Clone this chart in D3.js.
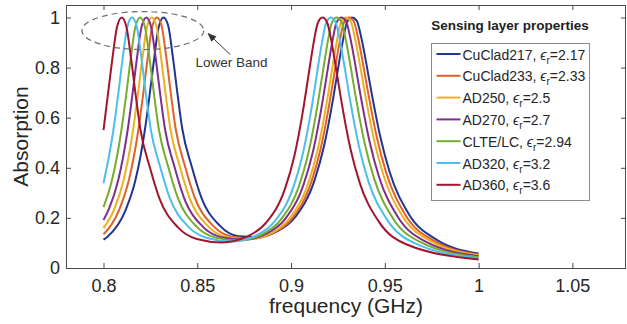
<!DOCTYPE html>
<html lang="en">
<head>
<meta charset="utf-8">
<title>Sensing layer absorption</title>
<script src="https://d3js.org/d3.v7.min.js"></script>
<style>
  body { margin: 0; background: white; }
  text { font-family: "Liberation Sans", Arial, Helvetica, sans-serif; }
</style>
</head>
<body>
<script>

// legend order: CuClad217, CuClad233, AD250, AD270, CLTE/LC, AD320, AD360
var names = ["CuClad217", "CuClad233", "AD250", "AD270", "CLTE/LC", "AD320", "AD360"];
var epsR = ["2.17", "2.33", "2.5", "2.7", "2.94", "3.2", "3.6"];
var colors = ["#1f3590", "#e0622a", "#edb120", "#7e2f8e", "#77ac30", "#4dbeee", "#a2142f"];

var xTicks = [0.8, 0.85, 0.9, 0.95, 1, 1.05];
var yTicks = [0, 0.2, 0.4, 0.6, 0.8, 1];

// frequency (GHz) / absorption
var fCuClad217 = [0.8, 0.802, 0.812, 0.817, 0.822, 0.8245, 0.827, 0.8295, 0.832, 0.8345, 0.837, 0.8395, 0.842, 0.847, 0.852, 0.862, 0.872, 0.8823, 0.8925, 0.9025, 0.9125, 0.9175, 0.9225, 0.925, 0.9275, 0.93, 0.9325, 0.935, 0.9375, 0.94, 0.9425, 0.9475, 0.9525, 0.9625, 0.9775, 1.0];
var aCuClad217 = [0.113, 0.124, 0.235, 0.350, 0.548, 0.686, 0.836, 0.964, 1.0, 0.967, 0.841, 0.692, 0.556, 0.406, 0.285, 0.169, 0.127, 0.124, 0.146, 0.206, 0.350, 0.484, 0.679, 0.793, 0.902, 0.984, 1.0, 0.988, 0.918, 0.822, 0.717, 0.527, 0.385, 0.219, 0.113, 0.058];

var fCuClad233 = [0.8, 0.8085, 0.8135, 0.8185, 0.821, 0.8235, 0.826, 0.8285, 0.831, 0.8335, 0.836, 0.8385, 0.8435, 0.8485, 0.8585, 0.8685, 0.8797, 0.8908, 0.9008, 0.9108, 0.9158, 0.9208, 0.9233, 0.9258, 0.9283, 0.9308, 0.9333, 0.9358, 0.9383, 0.9408, 0.9458, 0.9508, 0.9608, 0.9758, 1.0];
var aCuClad233 = [0.134, 0.235, 0.350, 0.548, 0.685, 0.836, 0.964, 1.0, 0.966, 0.840, 0.691, 0.555, 0.405, 0.284, 0.168, 0.125, 0.118, 0.141, 0.200, 0.343, 0.476, 0.672, 0.787, 0.899, 0.982, 1.0, 0.987, 0.916, 0.818, 0.712, 0.520, 0.379, 0.214, 0.110, 0.054];

var fAD250 = [0.8, 0.8057, 0.8107, 0.8157, 0.8182, 0.8207, 0.8232, 0.8257, 0.8282, 0.8307, 0.8332, 0.8357, 0.8407, 0.8457, 0.8557, 0.8657, 0.8775, 0.8892, 0.8992, 0.9092, 0.9142, 0.9192, 0.9217, 0.9242, 0.9267, 0.9292, 0.9317, 0.9342, 0.9367, 0.9392, 0.9442, 0.9492, 0.9592, 0.9742, 1.0];
var aAD250 = [0.159, 0.234, 0.350, 0.548, 0.685, 0.836, 0.963, 1.0, 0.966, 0.839, 0.690, 0.554, 0.405, 0.283, 0.167, 0.123, 0.115, 0.138, 0.198, 0.339, 0.472, 0.668, 0.784, 0.897, 0.982, 1.0, 0.986, 0.913, 0.813, 0.706, 0.513, 0.372, 0.210, 0.108, 0.051];

var fAD270 = [0.8, 0.8028, 0.8078, 0.8128, 0.8153, 0.8178, 0.8203, 0.8228, 0.8253, 0.8278, 0.8303, 0.8328, 0.8378, 0.8428, 0.8528, 0.8628, 0.8748, 0.8868, 0.8968, 0.9068, 0.9118, 0.9168, 0.9193, 0.9218, 0.9243, 0.9268, 0.9293, 0.9318, 0.9343, 0.9368, 0.9418, 0.9468, 0.9568, 0.9718, 1.0];
var aAD270 = [0.192, 0.234, 0.349, 0.547, 0.685, 0.836, 0.963, 1.0, 0.965, 0.839, 0.690, 0.554, 0.405, 0.283, 0.166, 0.123, 0.113, 0.137, 0.195, 0.336, 0.468, 0.665, 0.782, 0.895, 0.981, 1.0, 0.985, 0.911, 0.809, 0.700, 0.507, 0.366, 0.206, 0.105, 0.047];

var fCLTE = [0.8, 0.8045, 0.8095, 0.812, 0.8145, 0.817, 0.8195, 0.822, 0.8245, 0.827, 0.8295, 0.8345, 0.8395, 0.8495, 0.8595, 0.8719, 0.8843, 0.8943, 0.9043, 0.9093, 0.9143, 0.9168, 0.9193, 0.9218, 0.9243, 0.9268, 0.9293, 0.9318, 0.9343, 0.9393, 0.9443, 0.9543, 0.9693, 1.0];
var aCLTE = [0.243, 0.350, 0.548, 0.685, 0.836, 0.963, 1.0, 0.965, 0.839, 0.690, 0.554, 0.404, 0.283, 0.166, 0.122, 0.110, 0.133, 0.191, 0.329, 0.461, 0.658, 0.776, 0.892, 0.980, 1.0, 0.984, 0.907, 0.802, 0.691, 0.496, 0.357, 0.199, 0.102, 0.043];

var fAD320 = [0.8, 0.8052, 0.8077, 0.8102, 0.8127, 0.8152, 0.8177, 0.8202, 0.8227, 0.8252, 0.8302, 0.8352, 0.8452, 0.8552, 0.8682, 0.8812, 0.8912, 0.9012, 0.9062, 0.9112, 0.9137, 0.9162, 0.9187, 0.9212, 0.9237, 0.9262, 0.9287, 0.9312, 0.9362, 0.9412, 0.9512, 0.9662, 1.0];
var aAD320 = [0.338, 0.547, 0.685, 0.836, 0.963, 1.0, 0.965, 0.839, 0.689, 0.553, 0.404, 0.282, 0.165, 0.120, 0.106, 0.129, 0.186, 0.322, 0.453, 0.650, 0.770, 0.888, 0.978, 1.0, 0.982, 0.902, 0.795, 0.682, 0.486, 0.347, 0.193, 0.098, 0.038];

var fAD360 = [0.8, 0.8022, 0.8047, 0.8072, 0.8097, 0.8122, 0.8147, 0.8172, 0.8197, 0.8247, 0.8297, 0.8397, 0.8497, 0.8632, 0.8767, 0.8867, 0.8967, 0.9017, 0.9067, 0.9092, 0.9117, 0.9142, 0.9167, 0.9192, 0.9217, 0.9242, 0.9267, 0.9317, 0.9367, 0.9467, 0.9617, 1.0];
var aAD360 = [0.55, 0.684, 0.834, 0.962, 1.0, 0.963, 0.837, 0.688, 0.552, 0.402, 0.280, 0.162, 0.116, 0.102, 0.126, 0.181, 0.315, 0.445, 0.643, 0.764, 0.884, 0.977, 1.0, 0.981, 0.898, 0.788, 0.672, 0.475, 0.338, 0.186, 0.094, 0.034];

var freqs = [fCuClad217, fCuClad233, fAD250, fAD270, fCLTE, fAD320, fAD360];
var absorb = [aCuClad217, aCuClad233, aAD250, aAD270, aCLTE, aAD320, aAD360];

var w = 627, h = 324;
var plot = {left: 66, right: 626, top: 5, bottom: 268};

var svg = d3.select("body").append("svg")
    .attr("width", w)
    .attr("height", h);

svg.append("rect").attr("width", w).attr("height", h).attr("fill", "white");

// the figure is cropped a little past 1.05 on the right
var x = d3.scaleLinear().domain([0.78, 1.0786]).range([plot.left, plot.right]);
var y = d3.scaleLinear().domain([0, 1.05]).range([plot.bottom, plot.top]);

var axisColor = "#4a4a4a";
var fmt = d3.format("~g");

function styleAxis(g) {
  g.select(".domain").remove();
  g.selectAll(".tick line").attr("stroke", axisColor);
  g.selectAll(".tick text").attr("fill", "#262626").attr("font-size", 18);
}

svg.append("g")
    .attr("transform", `translate(0, ${plot.bottom})`)
    .call(d3.axisBottom(x).tickValues(xTicks).tickFormat(fmt).tickSize(-5).tickPadding(11))
    .call(styleAxis);

svg.append("g")
    .attr("transform", `translate(0, ${plot.top})`)
    .call(d3.axisTop(x).tickValues(xTicks).tickFormat("").tickSize(-5))
    .call(styleAxis);

svg.append("g")
    .attr("transform", `translate(${plot.left}, 0)`)
    .call(d3.axisLeft(y).tickValues(yTicks).tickFormat(fmt).tickSize(-5).tickPadding(6))
    .call(styleAxis);

svg.append("g")
    .attr("transform", `translate(${plot.right}, 0)`)
    .call(d3.axisRight(y).tickValues(yTicks).tickFormat("").tickSize(-5))
    .call(styleAxis);

svg.append("rect")
    .attr("x", plot.left + 0.5)
    .attr("y", plot.top + 0.5)
    .attr("width", plot.right - plot.left - 1)
    .attr("height", plot.bottom - plot.top)
    .attr("fill", "none")
    .attr("stroke", axisColor)
    .attr("stroke-width", 1);

// curves
var line = d3.line()
    .x(d => x(d[0]))
    .y(d => y(d[1]))
    .curve(d3.curveMonotoneX);

svg.append("g").selectAll("path")
    .data(names)
    .enter().append("path")
    .attr("d", (d, i) => line(d3.zip(freqs[i], absorb[i])))
    .attr("fill", "none")
    .attr("stroke", (d, i) => colors[i])
    .attr("stroke-width", 2);

// axis labels
svg.append("text")
    .attr("x", (plot.left + plot.right) / 2)
    .attr("y", 313)
    .attr("text-anchor", "middle")
    .attr("font-size", 21)
    .attr("fill", "#262626")
    .text("frequency (GHz)");

svg.append("text")
    .attr("transform", `translate(28, ${(plot.top + plot.bottom) / 2}) rotate(-90)`)
    .attr("text-anchor", "middle")
    .attr("font-size", 21)
    .attr("fill", "#262626")
    .text("Absorption");

// lower band annotation
svg.append("ellipse")
    .attr("cx", x(0.821))
    .attr("cy", y(0.948))
    .attr("rx", 61)
    .attr("ry", 19)
    .attr("fill", "none")
    .attr("stroke", "#6e6e6e")
    .attr("stroke-width", 1.2)
    .attr("stroke-dasharray", "6,4");

svg.append("defs").append("marker")
    .attr("id", "arrow")
    .attr("viewBox", "0 0 10 10")
    .attr("refX", 9).attr("refY", 5)
    .attr("markerWidth", 9).attr("markerHeight", 9)
    .attr("orient", "auto")
  .append("path")
    .attr("d", "M0,1 L10,5 L0,9 Z")
    .attr("fill", "#333");

svg.append("line")
    .attr("x1", x(0.8676)).attr("y1", y(0.852))
    .attr("x2", x(0.8558)).attr("y2", y(0.936))
    .attr("stroke", "#333")
    .attr("stroke-width", 1)
    .attr("marker-end", "url(#arrow)");

svg.append("text")
    .attr("x", x(0.8491))
    .attr("y", y(0.802))
    .attr("font-size", 13.5)
    .attr("fill", "#333")
    .text("Lower Band");

// legend
svg.append("text")
    .attr("x", 510)
    .attr("y", 30)
    .attr("text-anchor", "middle")
    .attr("font-size", 13.5)
    .attr("font-weight", "bold")
    .attr("fill", "#222")
    .text("Sensing layer properties");

var legend = svg.append("g").attr("transform", "translate(431.5, 43.5)");

legend.append("rect")
    .attr("width", 158)
    .attr("height", 157)
    .attr("fill", "white")
    .attr("stroke", "#8c8c8c");

var rows = legend.selectAll("g.row")
    .data(names)
    .enter().append("g")
    .attr("class", "row")
    .attr("transform", (d, i) => `translate(0, ${10.5 + i * 21.8})`);

rows.append("line")
    .attr("x1", 5).attr("x2", 29)
    .attr("stroke", (d, i) => colors[i])
    .attr("stroke-width", 2);

var label = rows.append("text")
    .attr("x", 31)
    .attr("y", 5.5)
    .attr("font-size", 14)
    .attr("fill", "#262626");

label.append("tspan").text(d => d + ", ");
label.append("tspan").attr("font-style", "italic").text("\u03f5");
label.append("tspan").attr("font-size", 10).attr("dy", 4).text("r");
label.append("tspan").attr("dy", -4).text((d, i) => "=" + epsR[i]);

</script>
</body>
</html>
